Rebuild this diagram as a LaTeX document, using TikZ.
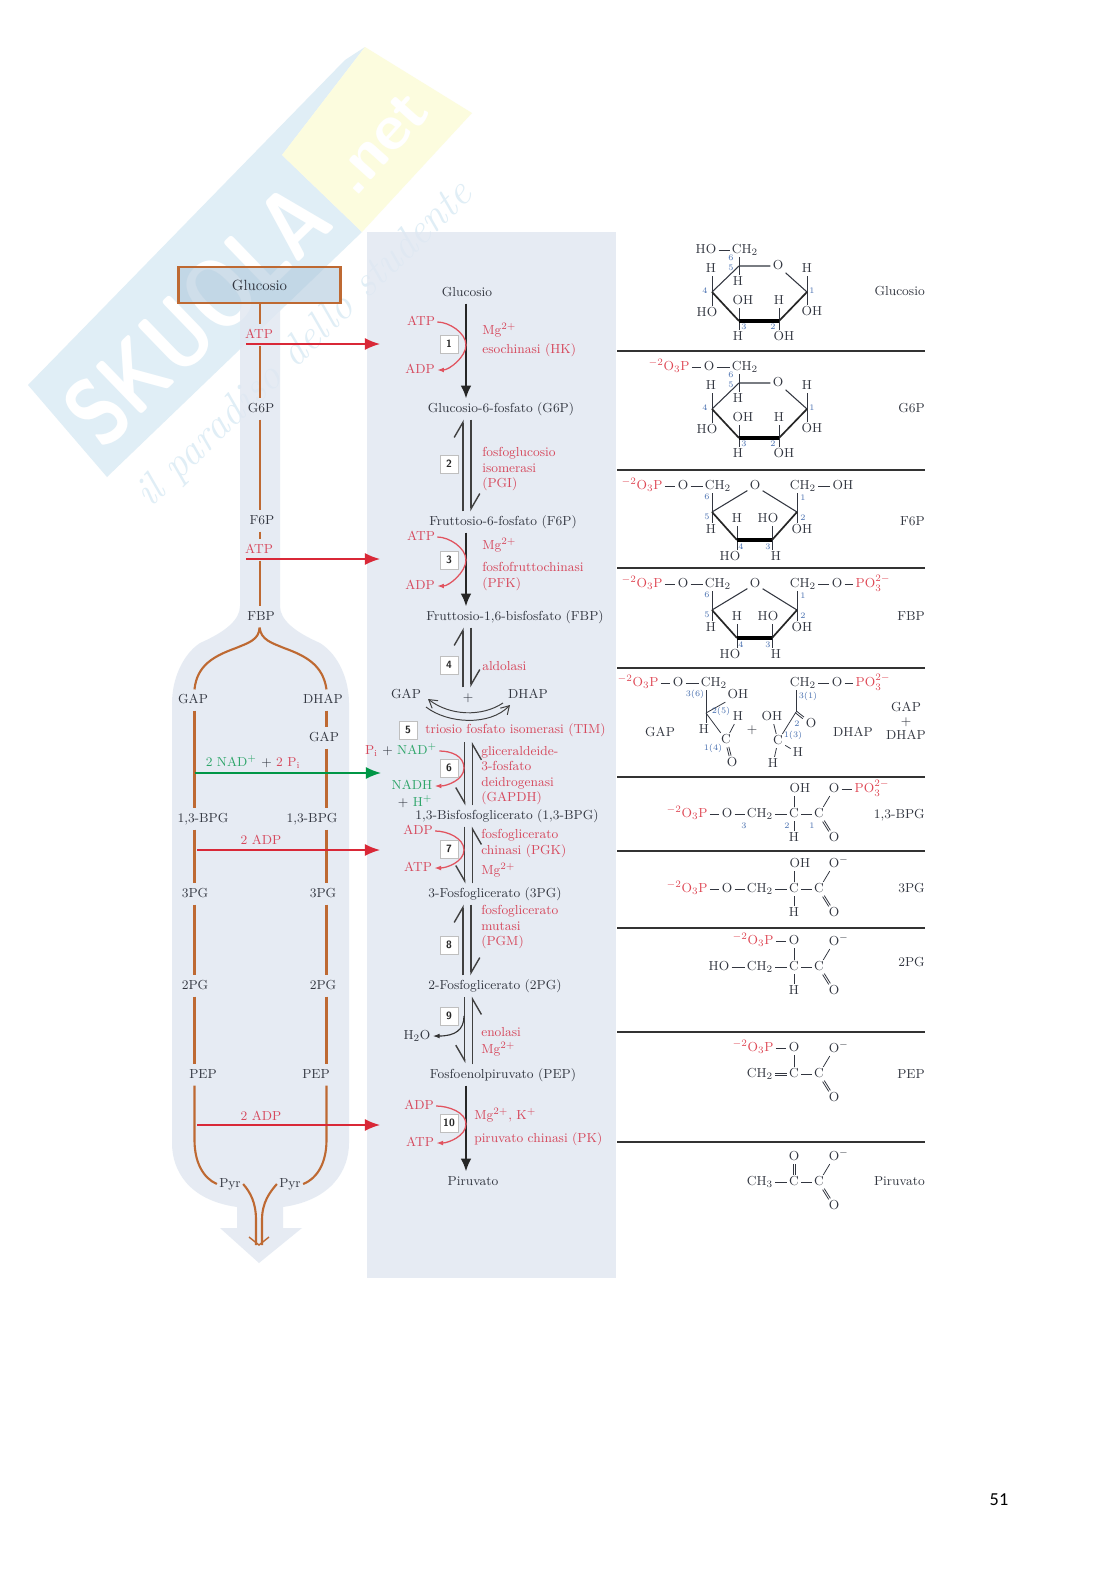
\documentclass[tikz,border=0pt]{standalone}
\usepackage{fontspec}
\usepackage{tikz}
\usetikzlibrary{arrows.meta, shadows, calc}
\newfontfamily\pagefont{Carlito}
\definecolor{inchiostro}{RGB}{50,54,64}
\definecolor{rosso}{RGB}{214,72,92}
\definecolor{freccia}{RGB}{217,40,55}
\definecolor{verde}{RGB}{0,150,70}
\definecolor{verdino}{RGB}{45,165,105}
\definecolor{bruno}{RGB}{190,105,50}
\definecolor{azzurro}{RGB}{70,110,175}
\definecolor{pannello}{RGB}{224,231,241}
\definecolor{wmblu}{RGB}{224,238,246}
\definecolor{wmgiallo}{RGB}{252,252,222}
\tikzset{
  lab/.style={text=inchiostro, inner xsep=1.5pt, inner ysep=3pt, text height=6.8pt, text depth=1.9pt,
              font=\fontsize{9.3}{11}\selectfont},
  enz/.style={text=rosso, anchor=west, inner sep=0pt, text height=6.8pt, text depth=1.9pt,
              font=\fontsize{9.3}{11}\selectfont},
  rossa/.style={lab, text=rosso},
  side/.style={lab, anchor=east, inner xsep=0pt},
  chem/.style={text=inchiostro, inner xsep=1.5pt, inner ysep=.5pt, text height=6.8pt, text depth=1.9pt,
               font=\fontsize{9.3}{11}\selectfont},
  chemr/.style={chem, text=freccia!85},
  num/.style={text=azzurro, inner sep=0pt, font=\fontsize{6}{7}\selectfont},
  numbox/.style={rectangle, draw=black!25, fill=white, minimum size=.45cm, inner sep=0pt,
                 text=black!85, font=\sffamily\bfseries\fontsize{7.5}{9}\selectfont,
                 drop shadow={opacity=.3, shadow xshift=.7pt, shadow yshift=-.7pt}},
  bond/.style={draw=inchiostro, line width=.55pt},
  ringa/.style={draw=inchiostro, line width=.75pt},
  ringb/.style={draw=black!85, line width=1.2pt},
  ringc/.style={draw=black, line width=2.4pt},
  regola/.style={draw=black!80, line width=1.1pt},
  via/.style={draw=bruno, line width=1.5pt},
  entra/.style={line width=1pt},
  asse/.style={-{Latex[length=.32cm, width=.27cm]}, draw=black!85, line width=1.4pt},
  cofat/.style={-{Latex[length=.17cm, width=.12cm]}, draw=freccia!80, line width=.9pt},
  equ/.style={draw=black!75, line width=1pt},
  equs/.style={equ, -{Straight Barb[left, length=.38cm, width=.44cm]}},
  equd/.style={equ, -{Straight Barb[right, length=.38cm, width=.44cm]}},
  arco/.style={draw=black!75, line width=.7pt, -{Straight Barb[length=.2cm, width=.24cm]}}
}
% legame doppio
\newcommand{\doppio}[4]{
  \draw[bond, transform canvas={xshift=#3, yshift=#4}] (#1) -- (#2);
  \draw[bond, transform canvas={xshift=-#3, yshift=-#4}] (#1) -- (#2);
}
% anello a sei termini (glucosio, G6P)
\newcommand{\pyranring}[1]{
  \foreach \n/\x/\y in {c5/739/266, c1/807/292, c2/779/321, c3/739/321, c4/712/292}
    {\coordinate (#1\n) at (\x,\y);}
  \foreach \n/\x/\y/\t in {ro/778/266/O, ch/745/250/CH$_2$, h4/711/269/H, ho4/707/313/HO, h5/738/282/H,
      oh3/743/301/OH, h3/738/337/H, h2/779/301/H, oh2/784/337/OH, h1/807/269/H, oh1/812/312/OH}
    {\node[chem] (#1\n) at (\x,\y) {\t};}
  \foreach \c/\n/\a in {c4/h4/south, c4/ho4/north, c5/ch/south, c5/h5/north, c3/oh3/south,
      c3/h3/north, c2/h2/south, c2/oh2/north, c1/h1/south, c1/oh1/north}
    {\draw[bond] (#1\c) -- (#1\c |- #1\n.\a);}
  \draw[ringa] (#1c4) -- (#1c5) -- (#1ro);
  \draw[ringa] (#1ro) -- (#1c1);
  \draw[ringb] (#1c1) -- (#1c2);
  \draw[ringc] (#1c2) -- (#1c3);
  \draw[ringb] (#1c3) -- (#1c4);
  \foreach \t/\x/\y in {6/731/258, 5/731/268, 4/705/291, 3/744/327, 2/773/327, 1/812/291}
    {\node[num] (#1n\t) at (\x,\y) {\t};}
}
% anello a cinque termini (F6P, FBP)
\newcommand{\furanring}[1]{
  \foreach \n/\x/\y in {c5/712/512, c4/737/540, c3/772/540, c2/797/512}
    {\coordinate (#1\n) at (\x,\y);}
  \foreach \n/\x/\y/\t in {ro/755/486/O, pa/683/486/O, ca/718/486/CH$_2$, cb/803/486/CH$_2$, oh2/802/530/OH,
      h5/711/530/H, h4/737/519/H, ho3/768/519/HO, ho4/730/557/HO, h3/776/557/H}
    {\node[chem] (#1\n) at (\x,\y) {\t};}
  \node[chemr] (#1p) at (642,486) {$^{-2}$O$_3$P};
  \draw[bond] (#1p) -- (#1pa);
  \draw[bond] (#1pa) -- (#1ca);
  \foreach \c/\n/\a in {c5/ca/south, c5/h5/north, c4/h4/south, c4/ho4/north, c3/ho3/south,
      c3/h3/north, c2/cb/south, c2/oh2/north}
    {\draw[bond] (#1\c) -- (#1\c |- #1\n.\a);}
  \draw[ringa] (#1c5) -- (#1ro);
  \draw[ringa] (#1ro) -- (#1c2);
  \draw[ringb] (#1c5) -- (#1c4);
  \draw[ringc] (#1c4) -- (#1c3);
  \draw[ringb] (#1c3) -- (#1c2);
  \foreach \t/\x/\y in {6/707/497, 5/707/517, 4/741/547, 3/768/547, 2/803/518, 1/803/498}
    {\node[num] (#1n\t) at (\x,\y) {\t};}
}
% coda carbossilica
\newcommand{\coda}[3]{
  \node[chem] (#1ca) at (794,#2) {C};
  \node[chem] (#1cb) at (819,#2) {C};
  \node[chem] (#1ou) at (834,#2-25) {#3};
  \node[chem] (#1ob) at (834,#2+24) {O};
  \draw[bond] (#1ca) -- (#1cb);
  \draw[bond] (#1cb) -- (#1ou);
  \doppio{#1cb}{#1ob}{.6pt}{.37pt}
}
\newcommand{\omeno}{O\rlap{$^-$}}
\begin{document}
\begin{tikzpicture}[x=0.025cm, y=-0.025cm]
  \useasboundingbox (0,0) rectangle (1116,1579);
  \fill[white] (0,0) rectangle (1116,1579);

  % filigrana
  \fill[wmblu] (28,385) -- (345,60) -- (365,47) -- (282,155) -- (362,232) -- (107,477) -- cycle;
  \fill[wmgiallo] (365,47) -- (472,113) -- (362,232) -- (282,155) -- cycle;
  \node[rotate=44, xscale=.8, text=white, inner sep=0pt, font=\sffamily\bfseries\fontsize{68}{70}\selectfont] (wmnome) at (197,315) {SKUOLA};
  \node[rotate=48, text=white, inner sep=0pt, font=\sffamily\bfseries\fontsize{46}{48}\selectfont] (wmnet) at (380,143) {.net};
  \node[rotate=44, text=wmblu, inner sep=0pt, font=\itshape\fontsize{30}{32}\selectfont] (wmmotto) at (305,345) {il paradiso dello studente};

  % sfondi
  \fill[pannello, fill opacity=.8] (367,232) rectangle (616,1278);
  \fill[pannello, fill opacity=.8] (240,303) -- (240,606) .. controls (240,620) and (225,632) .. (200,643)
    .. controls (182,655) and (172,680) .. (172,703) -- (172,1143)
    .. controls (172,1170) and (188,1200) .. (237,1207) -- (237,1228) -- (220,1228) -- (259,1263)
    -- (302,1228) -- (283,1228) -- (283,1207) .. controls (332,1200) and (349,1170) .. (349,1143)
    -- (349,703) .. controls (349,680) and (339,655) .. (320,643) .. controls (295,632) and (280,620) .. (280,606)
    -- (280,303) -- cycle;
  \node[draw=bruno, line width=1.5pt, fill={rgb,255:red,175;green,200;blue,220}, fill opacity=.6, text opacity=1, text=inchiostro,
        minimum width=4.05cm, minimum height=.9cm, font=\fontsize{10.5}{12}\selectfont] (glucbox) at (259.5,285) {Glucosio};

  % colonna sinistra
  \foreach \n/\x/\y/\t in {lgsei/261/409/G6P, lfsei/262/521/F6P, lfbp/261/617/FBP, lgap/193/700/GAP, ldhap/323/700/DHAP,
      lgapb/324/738/GAP, lbpg/203/819/{1,3-BPG}, lbpgb/312/819/{1,3-BPG}, ltpg/195/894/3PG, ltpgb/323/894/3PG,
      lspg/195/986/2PG, lspgb/323/986/2PG, lpep/203/1075/PEP, lpepb/316/1075/PEP, lpyr/230/1184/Pyr, lpyrb/290/1184/Pyr}
    {\node[lab] (\n) at (\x,\y) {\t};}
  \foreach \n/\x/\y/\t in {latp/259/335/ATP, latpb/259/550/ATP, ladp/261/841/2 ADP, ladpb/261/1117/2 ADP}
    {\node[rossa] (\n) at (\x,\y) {\t};}
  \node[lab] (lnad) at (253,763) {{\color{verdino}2 NAD$^+$} + {\color{rosso}2 P$_\mathrm{i}$}};
  \coordinate (tc) at (259.6,0);
  \coordinate (tl) at (194.5,0);
  \coordinate (tr) at (326.5,0);
  \foreach \t/\a/\b in {tc/glucbox/latp, tc/latp/lgsei, tc/lgsei/lfsei, tc/lfsei/latpb, tc/latpb/lfbp,
      tl/lgap/lbpg, tl/lbpg/ltpg, tl/ltpg/lspg, tl/lspg/lpep,
      tr/ldhap/lgapb, tr/lgapb/lbpgb, tr/lbpgb/ltpgb, tr/ltpgb/lspgb, tr/lspgb/lpepb}
    {\draw[via] (\t |- \a.south) -- (\t |- \b.north);}
  \draw[via] (tc |- lfbp.south) .. controls (259,640) and (248,643) .. (236,648)
    .. controls (214,656) and (197,665) .. (tl |- lgap.north);
  \draw[via] (tc |- lfbp.south) .. controls (261,640) and (272,643) .. (284,648)
    .. controls (306,656) and (323,665) .. (tr |- ldhap.north);
  \draw[via] (tl |- lpep.south) -- (194.5,1140) .. controls (194.5,1162) and (203,1178) .. (lpyr.west);
  \draw[via] (tr |- lpepb.south) -- (326.5,1140) .. controls (326.5,1162) and (318,1178) .. (lpyrb.east);
  \coordinate (punta) at (259,1245);
  \draw[via] (lpyr.east) .. controls (250,1192) and (256,1202) .. (256,1220) -- (256,1245);
  \draw[via] (lpyrb.west) .. controls (270,1192) and (262,1202) .. (262,1220) -- (262,1245);
  \draw[via, line width=1pt] (249,1237) -- (punta) -- (269,1237);

  % frecce verso il pannello
  \foreach \n/\x/\y in {ua/246/344, ub/246/559, uc/197/850, ud/197/1125}
    {\coordinate (\n s) at (\x,\y); \coordinate (\n e) at (380,\y);}
  \coordinate (ves) at (194.5,773);
  \coordinate (vee) at (381,773);
  \foreach \n in {ua, ub, uc, ud}
    {\draw[entra, draw=freccia, -{Latex[length=.38cm, width=.3cm, fill=freccia]}] (\n s) -- (\n e);}
  \draw[entra, draw=verde, -{Latex[length=.38cm, width=.3cm, fill=verde]}] (ves) -- (vee);

  % pannello centrale: metaboliti
  \foreach \n/\x/\y/\t in {mglc/467/293/Glucosio, mgsei/501/409/Glucosio-6-fosfato (G6P), mfsei/503/522/Fruttosio-6-fosfato (F6P),
      mfbp/515/617/{Fruttosio-1,6-bisfosfato (FBP)}, mgap/406/695/GAP, mplus/468/698/+, mdhap/528/695/DHAP,
      mbpg/507/816/{1,3-Bisfosfoglicerato (1,3-BPG)}, mtpg/495/894/3-Fosfoglicerato (3PG), mspg/495/986/2-Fosfoglicerato (2PG),
      mpep/503/1075/Fosfoenolpiruvato (PEP), mpir/473/1182/Piruvato, acqua/417/1036/H$_2$O}
    {\node[lab] (\n) at (\x,\y) {\t};}
  \foreach \n/\x/\y/\t in {atpa/421/322/ATP, adpa/420/370/ADP, atpc/421/537/ATP, adpc/420/586/ADP,
      adpg/418/831/ADP, atpg/418/868/ATP, adpl/419/1106/ADP, atpl/420/1143/ATP}
    {\node[rossa] (\n) at (\x,\y) {\t};}
  \node[lab] (pinad) at (401,751) {{\color{rosso}P$_\mathrm{i}$} + {\color{verdino}NAD$^+$}};
  \node[lab, text=verdino] (nadh) at (412,786) {NADH};
  \node[lab] (acca) at (415,803) {+ {\color{verdino}H$^+$}};

  % enzimi
  \foreach \n/\x/\y/\t in {ea/482/331/Mg$^{2+}$, eb/482/350/esochinasi (HK), ec/482/453/fosfoglucosio, ed/482/469/isomerasi,
      ee/482/484/(PGI), ef/482/546/Mg$^{2+}$, eg/482/568/fosfofruttochinasi, eh/482/584/(PFK), ei/482/667/aldolasi,
      ej/425/730/{triosio fosfato isomerasi (TIM)}, ek/481/752/gliceraldeide-, el/481/767/3-fosfato, em/481/783/deidrogenasi,
      en/481/798/(GAPDH), eo/481/835/fosfoglicerato, ep/481/851/chinasi (PGK), eq/481/871/Mg$^{2+}$, er/481/911/fosfoglicerato,
      es/481/927/mutasi, et/481/942/(PGM), eu/481/1033/enolasi, ev/481/1050/Mg$^{2+}$, ew/474/1116/{Mg$^{2+}$, K$^+$},
      ex/474/1139/piruvato chinasi (PK)}
    {\node[enz] (\n) at (\x,\y) {\t};}

  % assi di reazione
  \coordinate (ax) at (466,0);
  \coordinate (asx) at (463,0);
  \coordinate (adx) at (471,0);
  \coordinate (bsx) at (464.6,0);
  \coordinate (bdx) at (472.6,0);
  \coordinate (cima) at (468,742);
  \coordinate (novea) at (464.6,997);
  \coordinate (noveb) at (464.6,1063);
  \foreach \a/\b in {mglc/mgsei, mfsei/mfbp, mpep/mpir}
    {\draw[asse] (ax |- \a.south) -- (ax |- \b.north);}
  \foreach \a/\b in {mgsei/mfsei, mfbp/mplus, mtpg/mspg}
    {\draw[equs] (asx |- \b.north) -- (asx |- \a.south);
     \draw[equs] (adx |- \a.south) -- (adx |- \b.north);}
  \foreach \a/\b in {cima/mbpg, mbpg/mtpg}
    {\draw[equd] (bsx |- \a.south) -- (bsx |- \b.north);
     \draw[equd] (bdx |- \b.north) -- (bdx |- \a.south);}
  \draw[equd] (novea) -- (noveb);
  \draw[equd] (bdx |- mpep.north) -- (bdx |- mspg.south);

  % cofattori
  \foreach \a/\b/\xm/\ym in {atpa/adpa/466/345, atpc/adpc/466/560, pinad/nadh/464/768, adpg/atpg/464/850, adpl/atpl/466/1124}
    {\draw[cofat] (\a.east) .. controls +(12,0) and (\xm,\ym-12) .. (\xm,\ym)
       .. controls (\xm,\ym+12) and +(12,0) .. (\b.east);}
  \coordinate (cacqua) at (464,1016);
  \draw[draw=black!80, line width=.8pt, -{Latex[length=.17cm, width=.12cm]}] (cacqua) .. controls (464,1030) and (455,1036) .. (acqua.east);
  \coordinate (arcoa) at (503,703);
  \coordinate (arcob) at (428,699);
  \coordinate (arcoc) at (426,707);
  \coordinate (arcod) at (510,705);
  \draw[arco] (arcoa) .. controls (482,717) and (450,716) .. (arcob);
  \draw[arco] (arcoc) .. controls (448,724) and (490,726) .. (arcod);

  % numeri delle reazioni
  \foreach \t/\x/\y in {1/449/344, 2/449/464, 3/449/560, 4/449/665, 5/408/730, 6/449/768, 7/449/849, 8/449/945, 9/449/1016, 10/449/1123}
    {\node[numbox] (r\t) at (\x,\y) {\t};}

  % regole a destra
  \foreach \i/\y in {1/351, 2/470, 3/568, 4/668, 5/777, 6/851, 7/928, 8/1032, 9/1142}
    {\coordinate (rga\i) at (617,\y); \coordinate (rgb\i) at (925,\y);
     \draw[regola] (rga\i) -- (rgb\i);}
  \foreach \n/\y/\t in {dglc/292/Glucosio, dgsei/409/G6P, dfsei/522/F6P, dfbp/617/FBP, dbpg/815/{1,3-BPG}, dtpg/889/3PG, dspg/963/2PG, dpep/1075/PEP, dpir/1182/Piruvato}
    {\node[side] (\n) at (925,\y) {\t};}
  \node[lab, align=center, text height=, text depth=] (dgap) at (906,721) {GAP\\[-1pt]+\\[-1pt]DHAP};

  % glucosio
  \pyranring{gl}
  \node[chem] (glho) at (706,250) {HO};
  \draw[bond] (glho) -- (glch);
  % G6P
  \begin{scope}[shift={(0,117)}]
    \pyranring{gs}
    \node[chem] (gsoo) at (709,250) {O};
    \node[chemr] (gsp) at (669,250) {$^{-2}$O$_3$P};
    \draw[bond] (gsp) -- (gsoo);
    \draw[bond] (gsoo) -- (gsch);
  \end{scope}
  % F6P
  \furanring{fs}
  \node[chem] (fsoh) at (843,486) {OH};
  \draw[bond] (fscb) -- (fsoh);
  % FBP
  \begin{scope}[shift={(0,98)}]
    \furanring{fb}
    \node[chem] (fboo) at (837,486) {O};
    \node[chemr] (fbpp) at (873,486) {PO$_3^{2-}$};
    \draw[bond] (fbcb) -- (fboo);
    \draw[bond] (fboo) -- (fbpp);
  \end{scope}
  % GAP
  \foreach \n/\x/\y/\t in {gaoo/678/683/O, gach/714/683/CH$_2$, gaoh/738/695/OH, gahb/704/730/H, gacc/726/740/C, gahc/738/717/H, gaob/732/763/O, gane/660/733/GAP, gapl/752/730/+}
    {\node[chem] (\n) at (\x,\y) {\t};}
  \node[chemr] (gapp) at (638,683) {$^{-2}$O$_3$P};
  \coordinate (gacb) at (706,713);
  \draw[bond] (gapp) -- (gaoo);
  \draw[bond] (gaoo) -- (gach);
  \draw[bond] (gacb) -- (gacb |- gach.south);
  \draw[bond] (gacb) -- (gaoh);
  \draw[bond] (gacb) -- (gacb |- gahb.north);
  \draw[bond] (gacb) -- (gacc);
  \draw[bond] (gacc) -- (gahc);
  \doppio{gacc}{gaob}{.68pt}{.18pt}
  \foreach \n/\x/\y/\t in {gana/695/694/3(6), ganb/721/711/2(5), ganc/713/748/1(4)}
    {\node[num] (\n) at (\x,\y) {\t};}
  % DHAP
  \foreach \n/\x/\y/\t in {dach/803/683/CH$_2$, daoo/837/683/O, daob/811/724/O, daoh/772/717/OH, dacc/778/741/C, dahb/798/753/H, dahc/773/764/H, dane/853/733/DHAP}
    {\node[chem] (\n) at (\x,\y) {\t};}
  \node[chemr] (dapp) at (873,683) {PO$_3^{2-}$};
  \coordinate (dacb) at (796,712);
  \draw[bond] (dach) -- (daoo);
  \draw[bond] (daoo) -- (dapp);
  \draw[bond] (dacb) -- (dacb |- dach.south);
  \doppio{dacb}{daob}{.44pt}{.55pt}
  \draw[bond] (dacb) -- (dacc);
  \draw[bond] (dacc) -- (daoh);
  \draw[bond] (dacc) -- (dahb);
  \draw[bond] (dacc) -- (dahc);
  \foreach \n/\x/\y/\t in {dana/808/696/3(1), danb/797/724/2, danc/793/735/1(3)}
    {\node[num] (\n) at (\x,\y) {\t};}
  % 1,3-BPG
  \coda{bp}{814}{O}
  \foreach \n/\x/\y/\t in {bpoo/727/814/O, bpch/760/814/CH$_2$, bpoh/800/789/OH, bphh/794/838/H}
    {\node[chem] (\n) at (\x,\y) {\t};}
  \node[chemr] (bppa) at (687,814) {$^{-2}$O$_3$P};
  \node[chemr] (bppb) at (872,789) {PO$_3^{2-}$};
  \draw[bond] (bppa) -- (bpoo);
  \draw[bond] (bpoo) -- (bpch);
  \draw[bond] (bpch) -- (bpca);
  \draw[bond] (bpca) -- (bpca |- bpoh.south);
  \draw[bond] (bpca) -- (bphh);
  \draw[bond] (bpou) -- (bppb);
  \foreach \n/\x/\y/\t in {bpna/744/826/3, bpnb/787/826/2, bpnc/812/826/1}
    {\node[num] (\n) at (\x,\y) {\t};}
  % 3PG
  \coda{tp}{889}{\omeno}
  \foreach \n/\x/\y/\t in {tpoo/727/889/O, tpch/760/889/CH$_2$, tpoh/800/864/OH, tphh/794/913/H}
    {\node[chem] (\n) at (\x,\y) {\t};}
  \node[chemr] (tppa) at (687,889) {$^{-2}$O$_3$P};
  \draw[bond] (tppa) -- (tpoo);
  \draw[bond] (tpoo) -- (tpch);
  \draw[bond] (tpch) -- (tpca);
  \draw[bond] (tpca) -- (tpca |- tpoh.south);
  \draw[bond] (tpca) -- (tphh);
  % 2PG
  \coda{sp}{967}{\omeno}
  \foreach \n/\x/\y/\t in {spho/719/967/HO, spch/760/967/CH$_2$, spoo/794/941/O, sphh/794/991/H}
    {\node[chem] (\n) at (\x,\y) {\t};}
  \node[chemr] (sppa) at (753,941) {$^{-2}$O$_3$P};
  \draw[bond] (spho) -- (spch);
  \draw[bond] (spch) -- (spca);
  \draw[bond] (sppa) -- (spoo);
  \draw[bond] (spca) -- (spoo);
  \draw[bond] (spca) -- (sphh);
  % PEP
  \coda{pe}{1074}{\omeno}
  \foreach \n/\x/\y/\t in {pech/760/1074/CH$_2$, peoo/794/1048/O}
    {\node[chem] (\n) at (\x,\y) {\t};}
  \node[chemr] (pepa) at (753,1048) {$^{-2}$O$_3$P};
  \doppio{pech}{peca}{0pt}{.7pt}
  \draw[bond] (pepa) -- (peoo);
  \draw[bond] (peca) -- (peoo);
  % piruvato
  \coda{pi}{1182}{\omeno}
  \foreach \n/\x/\y/\t in {pich/760/1182/CH$_3$, pioo/794/1157/O}
    {\node[chem] (\n) at (\x,\y) {\t};}
  \draw[bond] (pich) -- (pica);
  \doppio{pica}{pioo}{.7pt}{0pt}

  % numero di pagina
  \node[text=black, inner sep=0pt, font=\pagefont\fontsize{13}{15}\selectfont] (pagina) at (999,1500) {51};
\end{tikzpicture}
\end{document}
